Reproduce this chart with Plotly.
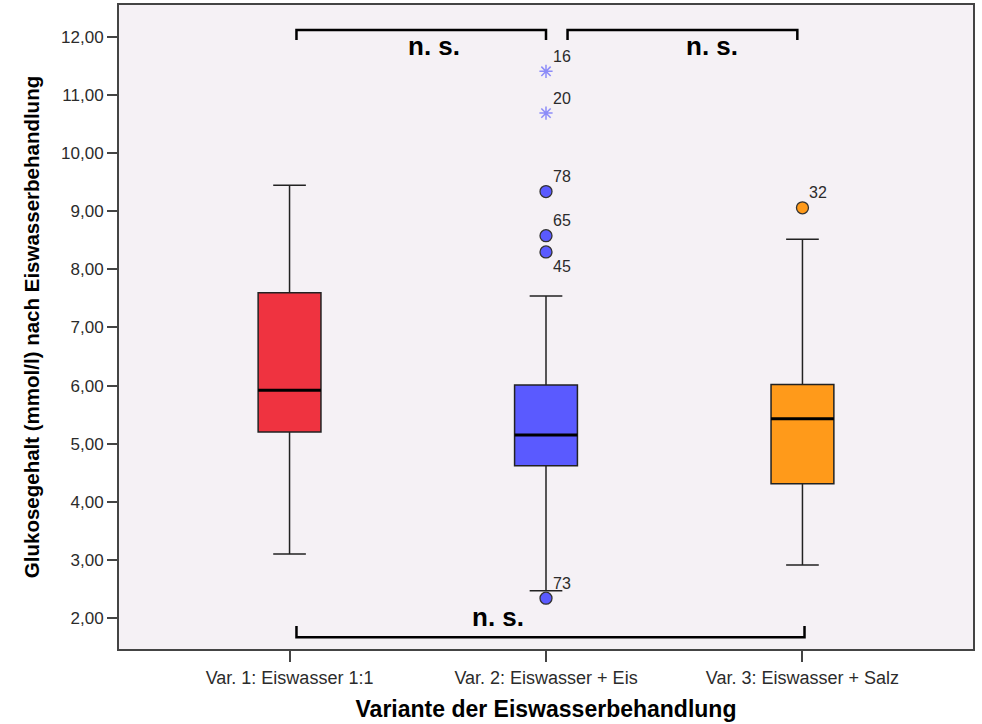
import plotly.graph_objects as go

# ---------------- data ----------------
categories = ["Var. 1: Eiswasser 1:1", "Var. 2: Eiswasser + Eis", "Var. 3: Eiswasser + Salz"]
q1 = [5.20, 4.62, 4.31]
median = [5.92, 5.15, 5.43]
q3 = [7.60, 6.01, 6.02]
lower_whisker = [3.10, 2.47, 2.91]
upper_whisker = [9.45, 7.54, 8.52]
box_colors = ["#EF3340", "#5A5AFF", "#FF9A1A"]

outlier_group = [1, 1, 1, 1, 1, 1, 2]
outlier_value = [11.41, 10.69, 9.34, 8.58, 8.30, 2.34, 9.06]
outlier_label = ["16", "20", "78", "65", "45", "73", "32"]
outlier_kind = ["extreme", "extreme", "outlier", "outlier", "outlier", "outlier", "outlier"]
label_below = [False, False, False, False, True, False, False]

y_tickvals = [2, 3, 4, 5, 6, 7, 8, 9, 10, 11, 12]
y_ticktext = ["2,00", "3,00", "4,00", "5,00", "6,00", "7,00", "8,00", "9,00", "10,00", "11,00", "12,00"]

# significance brackets
sig_labels = ["n. s.", "n. s.", "n. s."]
sig_x0 = [0.027, 1.084, 0.027]
sig_x1 = [1.0, 1.98, 2.008]
sig_y = [12.12, 12.12, 1.67]
sig_tick_y = [11.95, 11.95, 1.86]
sig_label_x = [0.563, 1.647, 0.812]
sig_label_y = [11.84, 11.84, 2.02]

BOX_W = 0.245
FONT = "Liberation Sans, Arial, sans-serif"

fig = go.Figure()

for i, cat in enumerate(categories):
    fig.add_trace(go.Box(
        x=[i], q1=[q1[i]], median=[median[i]], q3=[q3[i]],
        lowerfence=[lower_whisker[i]], upperfence=[upper_whisker[i]],
        width=BOX_W, whiskerwidth=0.52,
        fillcolor=box_colors[i], line=dict(color="#222222", width=1.5),
        boxpoints=False, showlegend=False, hoverinfo="skip", name=cat,
    ))
    fig.add_trace(go.Scatter(
        x=[i - BOX_W / 2, i + BOX_W / 2], y=[median[i], median[i]],
        mode="lines", line=dict(color="black", width=3),
        showlegend=False, hoverinfo="skip",
    ))

# outliers
for kind in ["outlier", "extreme"]:
    idx = [k for k in range(len(outlier_value)) if outlier_kind[k] == kind]
    xs = [outlier_group[k] for k in idx]
    ys = [outlier_value[k] for k in idx]
    cols = [box_colors[outlier_group[k]] for k in idx]
    if kind == "outlier":
        marker = dict(symbol="circle", size=12, color=cols, line=dict(color="#333333", width=1.3))
    else:
        marker = dict(symbol="asterisk-open", size=11, color="#8C8CF8", line=dict(color="#8C8CF8", width=1.5))
    fig.add_trace(go.Scatter(x=xs, y=ys, mode="markers", marker=marker,
                             showlegend=False, hoverinfo="skip"))

annotations = []
for k in range(len(outlier_value)):
    annotations.append(dict(
        x=outlier_group[k], y=outlier_value[k], text=outlier_label[k],
        showarrow=False, xanchor="left", yanchor="middle",
        xshift=5, yshift=-15 if label_below[k] else 15,
        font=dict(family=FONT, size=16, color="#2b2b2b"),
    ))

shapes = []
for j in range(len(sig_labels)):
    shapes.append(dict(
        type="path",
        path=f"M {sig_x0[j]},{sig_tick_y[j]} L {sig_x0[j]},{sig_y[j]} L {sig_x1[j]},{sig_y[j]} L {sig_x1[j]},{sig_tick_y[j]}",
        xref="x", yref="y", line=dict(color="black", width=2.5),
    ))
    annotations.append(dict(
        x=sig_label_x[j], y=sig_label_y[j], text=f"<b>{sig_labels[j]}</b>",
        showarrow=False, xanchor="center", yanchor="middle",
        font=dict(family=FONT, size=26, color="black"),
    ))

fig.update_layout(
    width=982, height=724,
    margin=dict(l=119, r=9, t=5, b=75, autoexpand=False),
    paper_bgcolor="white", plot_bgcolor="#F5F1F5",
    boxmode="overlay",
    shapes=shapes, annotations=annotations,
    font=dict(family=FONT, color="#2b2b2b"),
    xaxis=dict(
        range=[-0.665, 2.665], tickvals=[0, 1, 2], ticktext=categories,
        showgrid=False, zeroline=False, automargin=False,
        showline=True, linecolor="#444444", linewidth=2, mirror=True,
        ticks="outside", ticklen=11, tickwidth=1.5, tickcolor="#444444",
        tickfont=dict(family=FONT, size=18, color="#2b2b2b"),
        title=dict(text="<b>Variante der Eiswasserbehandlung</b>", standoff=14,
                   font=dict(family=FONT, size=23, color="black")),
    ),
    yaxis=dict(
        range=[1.466, 12.551], tickvals=y_tickvals, ticktext=y_ticktext,
        showgrid=False, zeroline=False, automargin=False,
        showline=True, linecolor="#444444", linewidth=2, mirror=True,
        ticks="outside", ticklen=10, tickwidth=1.5, tickcolor="#444444",
        tickfont=dict(family=FONT, size=17, color="#2b2b2b"),
        title=dict(text="<b>Glukosegehalt (mmol/l) nach Eiswasserbehandlung</b>", standoff=16,
                   font=dict(family=FONT, size=20.5, color="black")),
    ),
)

fig.write_html("out.html", config={"displayModeBar": False},
               post_script="document.body.style.margin='0';document.body.style.overflow='hidden';")
